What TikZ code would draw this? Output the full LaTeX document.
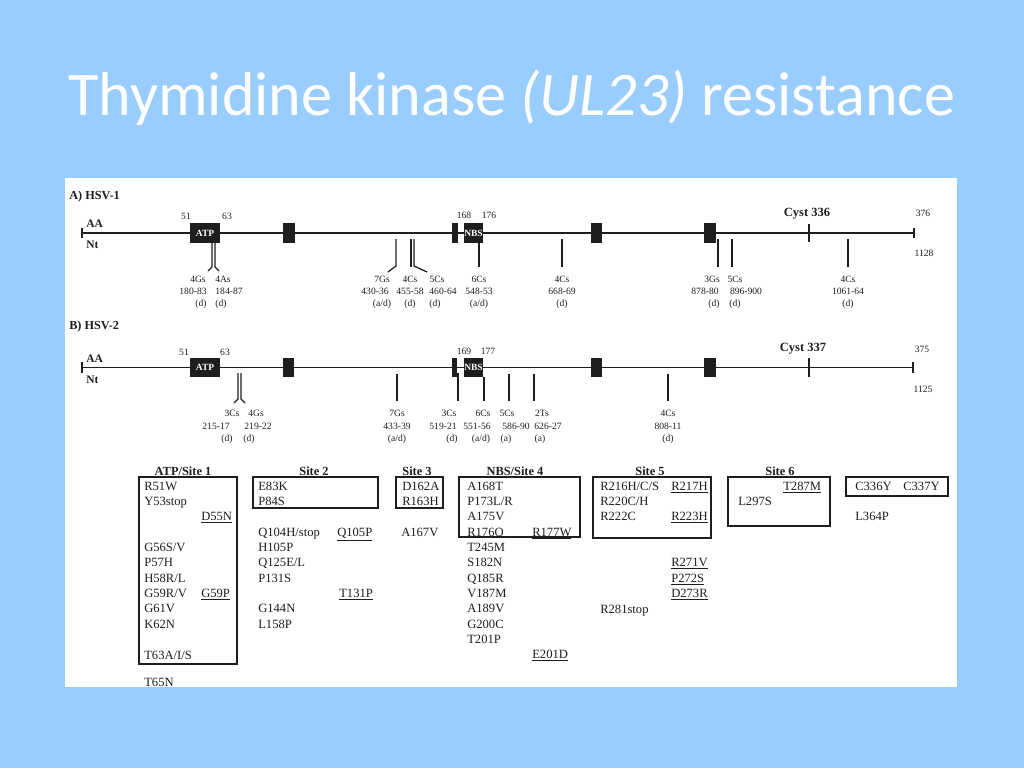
\documentclass[tikz,border=0pt]{standalone}
\usepackage{fontspec}
\setmainfont{Liberation Serif}
\newfontfamily\titlefont{Carlito}
\definecolor{bg}{RGB}{153,204,255}
\definecolor{ink}{RGB}{30,30,30}
\begin{document}
\begin{tikzpicture}[x=0.75pt,y=-0.75pt,
  sm/.style={font=\fontsize{7.2}{8}\selectfont, inner sep=0pt, anchor=base, text=ink},
  tx/.style={font=\fontsize{9.45}{11}\selectfont, inner sep=0pt, anchor=base west, text=ink},
  hd/.style={font=\bfseries\fontsize{9.3}{11}\selectfont, inner sep=0pt, anchor=base, text=ink},
  bl/.style={font=\bfseries\fontsize{9.2}{11}\selectfont, inner sep=0pt, anchor=base west, text=ink},
  dom/.style={fill=ink, draw=none, inner sep=0pt, text=white, font=\bfseries\fontsize{7.1}{8}\selectfont},
  gl/.style={draw=ink, line width=1pt},
  mk/.style={draw=ink, line width=0.95pt},
  bx/.style={draw=ink, line width=0.9pt},
]
\useasboundingbox (0,0) rectangle (1024,768);
\fill[bg] (0,0) rectangle (1024,768);
\fill[white] (65,178) rectangle (957,687);
% title
\node[anchor=base west, inner sep=0pt, text=white, font=\titlefont\fontsize{46.6}{50}\selectfont] (title) at (68,115) {Thymidine kinase \textit{(UL23)} resistance};

% ================= HSV-1 =================
\node[bl] (lA) at (69,199) {A) HSV-1};
\node[bl, font=\bfseries\fontsize{8.6}{10}\selectfont] (aa1) at (86,227) {AA};
\node[bl, font=\bfseries\fontsize{8.6}{10}\selectfont] (nt1) at (86,248) {Nt};
\coordinate (s1) at (82,233); \coordinate (e1) at (914,233);
\coordinate (s1u) at (82,228); \coordinate (s1d) at (82,238);
\coordinate (e1u) at (914,228); \coordinate (e1d) at (914,238);
\draw[gl] (s1) -- (e1);
\draw[gl] (s1u) -- (s1d);
\draw[gl] (e1u) -- (e1d);
\coordinate (cy1u) at (809,224); \coordinate (cy1d) at (809,242);
\draw[gl] (cy1u) -- (cy1d);
\node[dom, minimum width=22.5pt, minimum height=15pt] (atp1) at (205,233) {ATP};
\node[dom, minimum width=9pt, minimum height=15pt] (b21) at (289,233) {};
\node[dom, minimum width=4.5pt, minimum height=15pt] (b31) at (455,233) {};
\node[dom, minimum width=14.25pt, minimum height=15pt] (nbs1) at (473.5,233) {NBS};
\node[dom, minimum width=8.25pt, minimum height=15pt] (b51) at (596.5,233) {};
\node[dom, minimum width=9pt, minimum height=15pt] (b61) at (710,233) {};
\node[sm] (n51a) at (186,219) {51};
\node[sm] (n63a) at (227,219) {63};
\node[sm] (n168) at (464,218) {168};
\node[sm] (n176) at (489,218) {176};
\node[hd, font=\bfseries\fontsize{9.4}{11}\selectfont] (cyst1) at (807,216) {Cyst 336};
\node[sm] (n376) at (923,216) {376};
\node[sm] (n1128) at (924,256) {1128};
% markers HSV-1
\coordinate (p1t) at (212,243); \coordinate (p1m) at (212,267); \coordinate (p1b) at (208,271);
\coordinate (p2t) at (215,243); \coordinate (p2m) at (215,267); \coordinate (p2b) at (219,271);
\draw[mk] (p1t) -- (p1m) -- (p1b);
\draw[mk] (p2t) -- (p2m) -- (p2b);
\coordinate (g7t) at (396,239); \coordinate (g7m) at (396,266); \coordinate (g7b) at (388,272);
\draw[mk] (g7t) -- (g7m) -- (g7b);
\coordinate (c4t) at (411,239); \coordinate (c4b) at (411,267);
\draw[mk] (c4t) -- (c4b);
\coordinate (c5t) at (414,239); \coordinate (c5m) at (414,266); \coordinate (c5b) at (427,272);
\draw[mk] (c5t) -- (c5m) -- (c5b);
\coordinate (c6t) at (479,243); \coordinate (c6b) at (479,267);
\draw[mk] (c6t) -- (c6b);
\foreach \n/\x in {q1/562, q2/718, q3/732, q4/848} {
  \coordinate (\n t) at (\x,239); \coordinate (\n b) at (\x,267);
  \draw[mk] (\n t) -- (\n b);
}
% labels HSV-1
\node[sm] (l1a) at (198,282) {4Gs};  \node[sm] (l1b) at (193,294) {180-83};  \node[sm] (l1c) at (201,306) {(d)};
\node[sm] (l2a) at (223,282) {4As};  \node[sm] (l2b) at (229,294) {184-87};  \node[sm] (l2c) at (221,306) {(d)};
\node[sm] (l3a) at (382,282) {7Gs};  \node[sm] (l3b) at (375,294) {430-36};  \node[sm] (l3c) at (382,306) {(a/d)};
\node[sm] (l4a) at (410,282) {4Cs};  \node[sm] (l4b) at (410,294) {455-58};  \node[sm] (l4c) at (410,306) {(d)};
\node[sm] (l5a) at (437,282) {5Cs};  \node[sm] (l5b) at (443,294) {460-64};  \node[sm] (l5c) at (435,306) {(d)};
\node[sm] (l6a) at (479,282) {6Cs};  \node[sm] (l6b) at (479,294) {548-53};  \node[sm] (l6c) at (479,306) {(a/d)};
\node[sm] (l7a) at (562,282) {4Cs};  \node[sm] (l7b) at (562,294) {668-69};  \node[sm] (l7c) at (562,306) {(d)};
\node[sm] (l8a) at (712,282) {3Gs};  \node[sm] (l8b) at (705,294) {878-80};  \node[sm] (l8c) at (714,306) {(d)};
\node[sm] (l9a) at (735,282) {5Cs};  \node[sm] (l9b) at (746,294) {896-900}; \node[sm] (l9c) at (735,306) {(d)};
\node[sm] (l10a) at (848,282) {4Cs}; \node[sm] (l10b) at (848,294) {1061-64}; \node[sm] (l10c) at (848,306) {(d)};

% ================= HSV-2 =================
\node[bl] (lB) at (69,329) {B) HSV-2};
\node[bl, font=\bfseries\fontsize{8.6}{10}\selectfont] (aa2) at (86,362) {AA};
\node[bl, font=\bfseries\fontsize{8.6}{10}\selectfont] (nt2) at (86,383) {Nt};
\coordinate (s2) at (82,367.5); \coordinate (e2) at (913,367.5);
\coordinate (s2u) at (82,362); \coordinate (s2d) at (82,373);
\coordinate (e2u) at (913,362); \coordinate (e2d) at (913,373);
\draw[gl] (s2) -- (e2);
\draw[gl] (s2u) -- (s2d);
\draw[gl] (e2u) -- (e2d);
\coordinate (cy2u) at (809,358); \coordinate (cy2d) at (809,377);
\draw[gl] (cy2u) -- (cy2d);
\node[dom, minimum width=22.5pt, minimum height=14.25pt] (atp2) at (205,367.5) {ATP};
\node[dom, minimum width=8.25pt, minimum height=14.25pt] (b22) at (288.5,367.5) {};
\node[dom, minimum width=4pt, minimum height=14.25pt] (b32) at (454.5,367.5) {};
\node[dom, minimum width=14.25pt, minimum height=14.25pt] (nbs2) at (473.5,367.5) {NBS};
\node[dom, minimum width=8.25pt, minimum height=14.25pt] (b52) at (596.5,367.5) {};
\node[dom, minimum width=9pt, minimum height=14.25pt] (b62) at (710,367.5) {};
\node[sm] (n51b) at (184,355) {51};
\node[sm] (n63b) at (225,355) {63};
\node[sm] (n169) at (464,354) {169};
\node[sm] (n177) at (488,354) {177};
\node[hd, font=\bfseries\fontsize{9.4}{11}\selectfont] (cyst2) at (803,351) {Cyst 337};
\node[sm] (n375) at (922,352) {375};
\node[sm] (n1125) at (923,392) {1125};
% markers HSV-2
\coordinate (r1t) at (238,373); \coordinate (r1m) at (238,399); \coordinate (r1b) at (234,403);
\coordinate (r2t) at (241,373); \coordinate (r2m) at (241,399); \coordinate (r2b) at (245,403);
\draw[mk] (r1t) -- (r1m) -- (r1b);
\draw[mk] (r2t) -- (r2m) -- (r2b);
\coordinate (r3t) at (458,373); \coordinate (r3b) at (458,401);
\draw[mk] (r3t) -- (r3b);
\coordinate (r4t) at (484,377); \coordinate (r4b) at (484,401);
\draw[mk] (r4t) -- (r4b);
\foreach \n/\x in {w1/397, w2/509, w3/534, w4/668} {
  \coordinate (\n t) at (\x,374); \coordinate (\n b) at (\x,401);
  \draw[mk] (\n t) -- (\n b);
}
% labels HSV-2
\node[sm] (k1a) at (232,416) {3Cs};  \node[sm] (k1b) at (216,429) {215-17}; \node[sm] (k1c) at (227,441) {(d)};
\node[sm] (k2a) at (256,416) {4Gs};  \node[sm] (k2b) at (258,429) {219-22}; \node[sm] (k2c) at (249,441) {(d)};
\node[sm] (k3a) at (397,416) {7Gs};  \node[sm] (k3b) at (397,429) {433-39}; \node[sm] (k3c) at (397,441) {(a/d)};
\node[sm] (k4a) at (449,416) {3Cs};  \node[sm] (k4b) at (443,429) {519-21}; \node[sm] (k4c) at (452,441) {(d)};
\node[sm] (k5a) at (483,416) {6Cs};  \node[sm] (k5b) at (477,429) {551-56}; \node[sm] (k5c) at (481,441) {(a/d)};
\node[sm] (k6a) at (507,416) {5Cs};  \node[sm] (k6b) at (516,429) {586-90}; \node[sm] (k6c) at (506,441) {(a)};
\node[sm] (k7a) at (542,416) {2Ts};  \node[sm] (k7b) at (548,429) {626-27}; \node[sm] (k7c) at (540,441) {(a)};
\node[sm] (k8a) at (668,416) {4Cs};  \node[sm] (k8b) at (668,429) {808-11}; \node[sm] (k8c) at (668,441) {(d)};

% ================= Tables =================
\node[hd] (h1) at (183,475) {ATP/Site 1};
\node[hd] (h2) at (314,475) {Site 2};
\node[hd] (h3) at (417,475) {Site 3};
\node[hd] (h4) at (515,475) {NBS/Site 4};
\node[hd] (h5) at (650,475) {Site 5};
\node[hd] (h6) at (780,475) {Site 6};
\draw[bx] (139,477) rectangle (237,664);
\draw[bx] (253,477) rectangle (378,508);
\draw[bx] (396,477) rectangle (443,508);
\draw[bx] (459,477) rectangle (580,537);
\draw[bx] (593,477) rectangle (711,538);
\draw[bx] (728,477) rectangle (830,526);
\draw[bx] (846,477) rectangle (948,496);
% ATP / Site 1
\node[tx] (t1) at (144,490) {R51W};
\node[tx] (t2) at (144,505) {Y53stop};
\node[tx] (t3) at (201,520.5) {\underline{D55N}};
\node[tx] (t4) at (144,551) {G56S/V};
\node[tx] (t5) at (144,566) {P57H};
\node[tx] (t6) at (144,582) {H58R/L};
\node[tx] (t7) at (144,597) {G59R/V};
\node[tx] (t8) at (201,597) {\underline{G59P}};
\node[tx] (t9) at (144,612) {G61V};
\node[tx] (t10) at (144,628) {K62N};
\node[tx] (t11) at (144,659) {T63A/I/S};
\node[tx] (t12) at (144,686) {T65N};
% Site 2
\node[tx] (u1) at (258,490) {E83K};
\node[tx] (u2) at (258,505) {P84S};
\node[tx] (u3) at (258,536) {Q104H/stop};
\node[tx] (u4) at (337,536) {\underline{Q105P}};
\node[tx] (u5) at (258,551) {H105P};
\node[tx] (u6) at (258,566) {Q125E/L};
\node[tx] (u7) at (258,582) {P131S};
\node[tx] (u8) at (339,597) {\underline{T131P}};
\node[tx] (u9) at (258,612) {G144N};
\node[tx] (u10) at (258,628) {L158P};
% Site 3
\node[tx] (v1) at (402,490) {D162A};
\node[tx] (v2) at (402,505) {R163H};
\node[tx] (v3) at (401,536) {A167V};
% NBS / Site 4
\node[tx] (w1n) at (467,490) {A168T};
\node[tx] (w2n) at (467,505) {P173L/R};
\node[tx] (w3n) at (467,520.5) {A175V};
\node[tx] (w4n) at (467,536) {R176Q};
\node[tx] (w5n) at (532,536) {\underline{R177W}};
\node[tx] (w6n) at (467,551) {T245M};
\node[tx] (w7n) at (467,566) {S182N};
\node[tx] (w8n) at (467,582) {Q185R};
\node[tx] (w9n) at (467,597) {V187M};
\node[tx] (w10n) at (467,612) {A189V};
\node[tx] (w11n) at (467,628) {G200C};
\node[tx] (w12n) at (467,643) {T201P};
\node[tx] (w13n) at (532,658) {\underline{E201D}};
% Site 5
\node[tx] (x1) at (600,490) {R216H/C/S};
\node[tx] (x2) at (671,490) {\underline{R217H}};
\node[tx] (x3) at (600,505) {R220C/H};
\node[tx] (x4) at (600,520.5) {R222C};
\node[tx] (x5) at (671,520.5) {\underline{R223H}};
\node[tx] (x6) at (671,566) {\underline{R271V}};
\node[tx] (x7) at (671,582) {\underline{P272S}};
\node[tx] (x8) at (671,597) {\underline{D273R}};
\node[tx] (x9) at (600,613) {R281stop};
% Site 6
\node[tx] (y1) at (783,490) {\underline{T287M}};
\node[tx] (y2) at (738,505) {L297S};
% Cys
\node[tx] (z1) at (855,490) {C336Y};
\node[tx] (z2) at (903,490) {C337Y};
\node[tx] (z3) at (855,520.5) {L364P};
\end{tikzpicture}
\end{document}
